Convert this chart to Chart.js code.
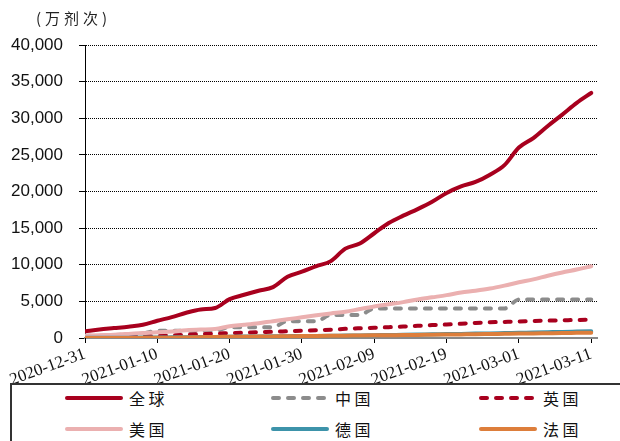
<!DOCTYPE html>
<html>
<head>
<meta charset="utf-8">
<script src="https://cdn.jsdelivr.net/npm/chart.js@4.4.1/dist/chart.umd.min.js"></script>
<style>
  html, body { margin: 0; padding: 0; background: #fff; }
  #wrap { position: relative; width: 620px; height: 441px; overflow: hidden; }
  #box { position: absolute; left: 0; top: 0; width: 620px; height: 383px; }
  #unit { position: absolute; left: 36px; top: 7px; font: 15px "Noto Sans CJK SC", sans-serif; color: #222; letter-spacing: 4px; }
  #legend { position: absolute; left: 10px; top: 383px; width: 620px; height: 62px; border: 2px solid #333; box-sizing: border-box; }
  .item { position: absolute; font: 16px "Noto Sans CJK SC", sans-serif; color: #111; display: flex; align-items: center; }
  .item svg { margin-right: 5px; }
</style>
</head>
<body>
<div id="wrap">
  <div id="box"><canvas id="chart" width="620" height="383"></canvas></div>
  <div id="unit">(万剂次)</div>
  <div id="legend"></div>
</div>
<script>
// 日期（每两天一个点）
const dates = [
  '2020-12-31', '2021-01-02', '2021-01-04', '2021-01-06', '2021-01-08', '2021-01-10',
  '2021-01-12', '2021-01-14', '2021-01-16', '2021-01-18', '2021-01-20', '2021-01-22',
  '2021-01-24', '2021-01-26', '2021-01-28', '2021-01-30', '2021-02-01', '2021-02-03',
  '2021-02-05', '2021-02-07', '2021-02-09', '2021-02-11', '2021-02-13', '2021-02-15',
  '2021-02-17', '2021-02-19', '2021-02-21', '2021-02-23', '2021-02-25', '2021-02-27',
  '2021-03-01', '2021-03-03', '2021-03-05', '2021-03-07', '2021-03-09', '2021-03-11'
];
const xTickDays = [0, 10, 20, 30, 40, 50, 60, 70];
const yTicks = [0, 5000, 10000, 15000, 20000, 25000, 30000, 35000, 40000];

// 各国累计接种（万剂次）
const globalVals = [900, 1150, 1350, 1550, 1800, 2350, 2850, 3450, 3900, 4100, 5300, 5900,
  6450, 6950, 8350, 9050, 9800, 10500, 12200, 12900, 14300, 15700, 16700, 17600,
  18600, 19800, 20700, 21300, 22300, 23600, 26000, 27300, 28950, 30500, 32100, 33450];
const chinaVals = [300, 300, 400, 500, 600, 1000, 1000, 1000, 1000, 1000, 1480, 1480,
  1480, 1480, 2300, 2300, 2300, 3150, 3150, 3150, 4030, 4030, 4030, 4030,
  4030, 4030, 4030, 4030, 4030, 4030, 5250, 5250, 5250, 5250, 5250, 5250];
const ukVals = [100, 130, 170, 200, 250, 300, 360, 450, 540, 600, 660, 720,
  790, 850, 920, 990, 1070, 1140, 1250, 1330, 1400, 1480, 1560, 1660,
  1760, 1850, 1950, 2060, 2150, 2200, 2250, 2320, 2370, 2420, 2460, 2500];
const usVals = [300, 380, 450, 560, 680, 770, 900, 1060, 1150, 1220, 1600, 1800,
  2020, 2300, 2550, 2830, 3100, 3350, 3580, 3950, 4300, 4600, 4900, 5250,
  5550, 5850, 6200, 6450, 6750, 7150, 7600, 8000, 8500, 8950, 9350, 9800];
const germanyVals = [20, 30, 40, 50, 60, 70, 90, 110, 130, 150, 170, 190,
  210, 230, 250, 270, 290, 310, 330, 350, 380, 410, 440, 470,
  500, 530, 560, 600, 630, 670, 710, 750, 790, 830, 880, 930];
const franceVals = [0, 1, 5, 10, 20, 30, 50, 80, 110, 140, 160, 180,
  200, 220, 240, 260, 280, 300, 320, 340, 360, 380, 400, 420,
  450, 470, 490, 510, 540, 570, 600, 620, 650, 680, 700, 720];

const startMs = Date.parse(dates[0]);
const days = dates.map(d => (Date.parse(d) - startMs) / 86400000);
function pts(vals) { return vals.map((v, i) => ({ x: days[i], y: v })); }
function fmtDay(n) {
  const d = new Date(startMs + n * 86400000);
  const m = String(d.getUTCMonth() + 1).padStart(2, '0');
  const dd = String(d.getUTCDate()).padStart(2, '0');
  return d.getUTCFullYear() + '-' + m + '-' + dd;
}

const series = [
  { label: '全球', data: globalVals, color: '#A8001E', dash: [], order: 5 },
  { label: '中国', data: chinaVals, color: '#8C8C8C', dash: [6, 9], order: 4 },
  { label: '英国', data: ukVals, color: '#A8001E', dash: [6, 9], order: 3 },
  { label: '美国', data: usVals, color: '#EBB0B0', dash: [], order: 2 },
  { label: '德国', data: germanyVals, color: '#3D93AA', dash: [], order: 1 },
  { label: '法国', data: franceVals, color: '#DD7E3B', dash: [], order: 0 }
];

new Chart(document.getElementById('chart'), {
  type: 'line',
  data: {
    datasets: series.map(s => ({
      label: s.label,
      data: pts(s.data),
      borderColor: s.color,
      borderWidth: 4,
      borderDash: s.dash,
      borderCapStyle: 'round',
      borderJoinStyle: 'round',
      pointRadius: 0,
      cubicInterpolationMode: 'monotone',
      order: s.order
    }))
  },
  options: {
    responsive: false,
    animation: false,
    devicePixelRatio: 1,
    layout: { padding: { top: 45, right: 23, left: 0, bottom: 0 } },
    plugins: { legend: { display: false }, tooltip: { enabled: false } },
    scales: {
      x: {
        type: 'linear',
        min: 0,
        max: 70.8,
        afterBuildTicks: scale => { scale.ticks = xTickDays.map(v => ({ value: v })); },
        afterFit: scale => { scale.height = 45; },
        ticks: {
          minRotation: 20,
          maxRotation: 20,
          padding: 1,
          color: '#111',
          font: { family: '"Liberation Serif", serif', size: 17 },
          callback: v => fmtDay(v)
        },
        grid: { drawOnChartArea: false, drawTicks: true, tickLength: 5, color: '#000', lineWidth: 1 },
        border: { display: true, color: '#888', width: 2 }
      },
      y: {
        min: 0,
        max: 40000,
        afterBuildTicks: scale => { scale.ticks = yTicks.map(v => ({ value: v })); },
        afterFit: scale => { scale.width = 85; },
        ticks: {
          padding: 16,
          color: '#111',
          font: { family: '"Liberation Sans", Arial, sans-serif', size: 17 },
          callback: v => v.toLocaleString('en-US')
        },
        grid: {
          color: '#000',
          lineWidth: 1,
          tickLength: 6,
          tickBorderDash: [],
          tickColor: '#000'
        },
        border: { display: true, color: '#000', width: 1, dash: [1, 1] }
      }
    }
  }
});

// 图例
const legendPos = [
  { x: 52, y: 14 }, { x: 258, y: 14 }, { x: 466, y: 14 },
  { x: 52, y: 45 }, { x: 258, y: 45 }, { x: 466, y: 45 }
];
const legendEl = document.getElementById('legend');
series.forEach((s, k) => {
  const p = legendPos[k];
  const item = document.createElement('div');
  item.className = 'item';
  item.style.left = p.x + 'px';
  item.style.top = (p.y - 13) + 'px';
  const dash = s.dash.length ? 'stroke-dasharray="' + s.dash.join(' ') + '"' : '';
  item.innerHTML = '<svg width="60" height="8"><line x1="3" y1="4" x2="57" y2="4" stroke="' + s.color +
    '" stroke-width="4" stroke-linecap="round" ' + dash + '/></svg><span>' + s.label.split('').join(' ') + '</span>';
  legendEl.appendChild(item);
});
</script>
</body>
</html>
